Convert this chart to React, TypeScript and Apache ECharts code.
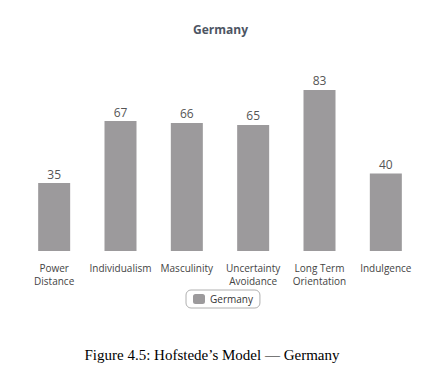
import React, { useEffect, useRef } from "react";
import * as echarts from "echarts";

const categories = [
  "Power\nDistance",
  "Individualism",
  "Masculinity",
  "Uncertainty\nAvoidance",
  "Long Term\nOrientation",
  "Indulgence",
];
const germanyValues = [35, 67, 66, 65, 83, 40];
const seriesName = "Germany";
const chartTitle = "Germany";
const caption = "Figure 4.5: Hofstede\u2019s Model \u2014 Germany";

export default function App() {
  const ref = useRef<HTMLDivElement>(null);
  useEffect(() => {
    if (!ref.current) return;
    const chart = echarts.init(ref.current, undefined, { renderer: "svg" });
    chart.setOption({
      animation: false,
      backgroundColor: "#ffffff",
      title: {
        text: chartTitle,
        left: 188,
        top: 18,
        textStyle: {
          fontFamily: "Open Sans",
          fontSize: 12,
          fontWeight: "bold",
          color: "#4d5563",
        },
      },
      legend: {
        data: [seriesName],
        left: 186,
        top: 290,
        orient: "horizontal",
        borderColor: "#b0b0b0",
        borderWidth: 1,
        borderRadius: 5,
        padding: [4, 7, 4, 7],
        itemWidth: 12,
        itemHeight: 10,
        itemGap: 5,
        icon: "roundRect",
        textStyle: { fontFamily: "Open Sans", fontSize: 10, color: "#333" },
      },
      grid: { left: 21, right: 5, top: 57, bottom: 129, containLabel: false },
      xAxis: {
        type: "category",
        data: categories,
        axisLine: { show: false },
        axisTick: { show: false },
        axisLabel: {
          interval: 0,
          margin: 10,
          fontFamily: "Open Sans",
          fontSize: 10,
          color: "#444",
          lineHeight: 13,
        },
      },
      yAxis: {
        type: "value",
        min: 0,
        max: 100,
        show: false,
      },
      series: [
        {
          name: seriesName,
          type: "bar",
          data: germanyValues,
          barWidth: 32,
          itemStyle: { color: "#9c9a9c" },
          label: {
            show: true,
            position: "top",
            distance: 3,
            fontFamily: "Open Sans",
            fontSize: 12,
            color: "#555",
          },
        },
      ],
      graphic: [
        {
          type: "text",
          left: "center",
          top: 347,
          style: {
            text: caption,
            fontFamily: "Liberation Serif",
            fontSize: 15,
            fill: "#000",
          },
        },
      ],
    });
    return () => chart.dispose();
  }, []);
  return (
    <div
      ref={ref}
      style={{ position: "fixed", left: 0, top: 0, width: 424, height: 380 }}
    />
  );
}
